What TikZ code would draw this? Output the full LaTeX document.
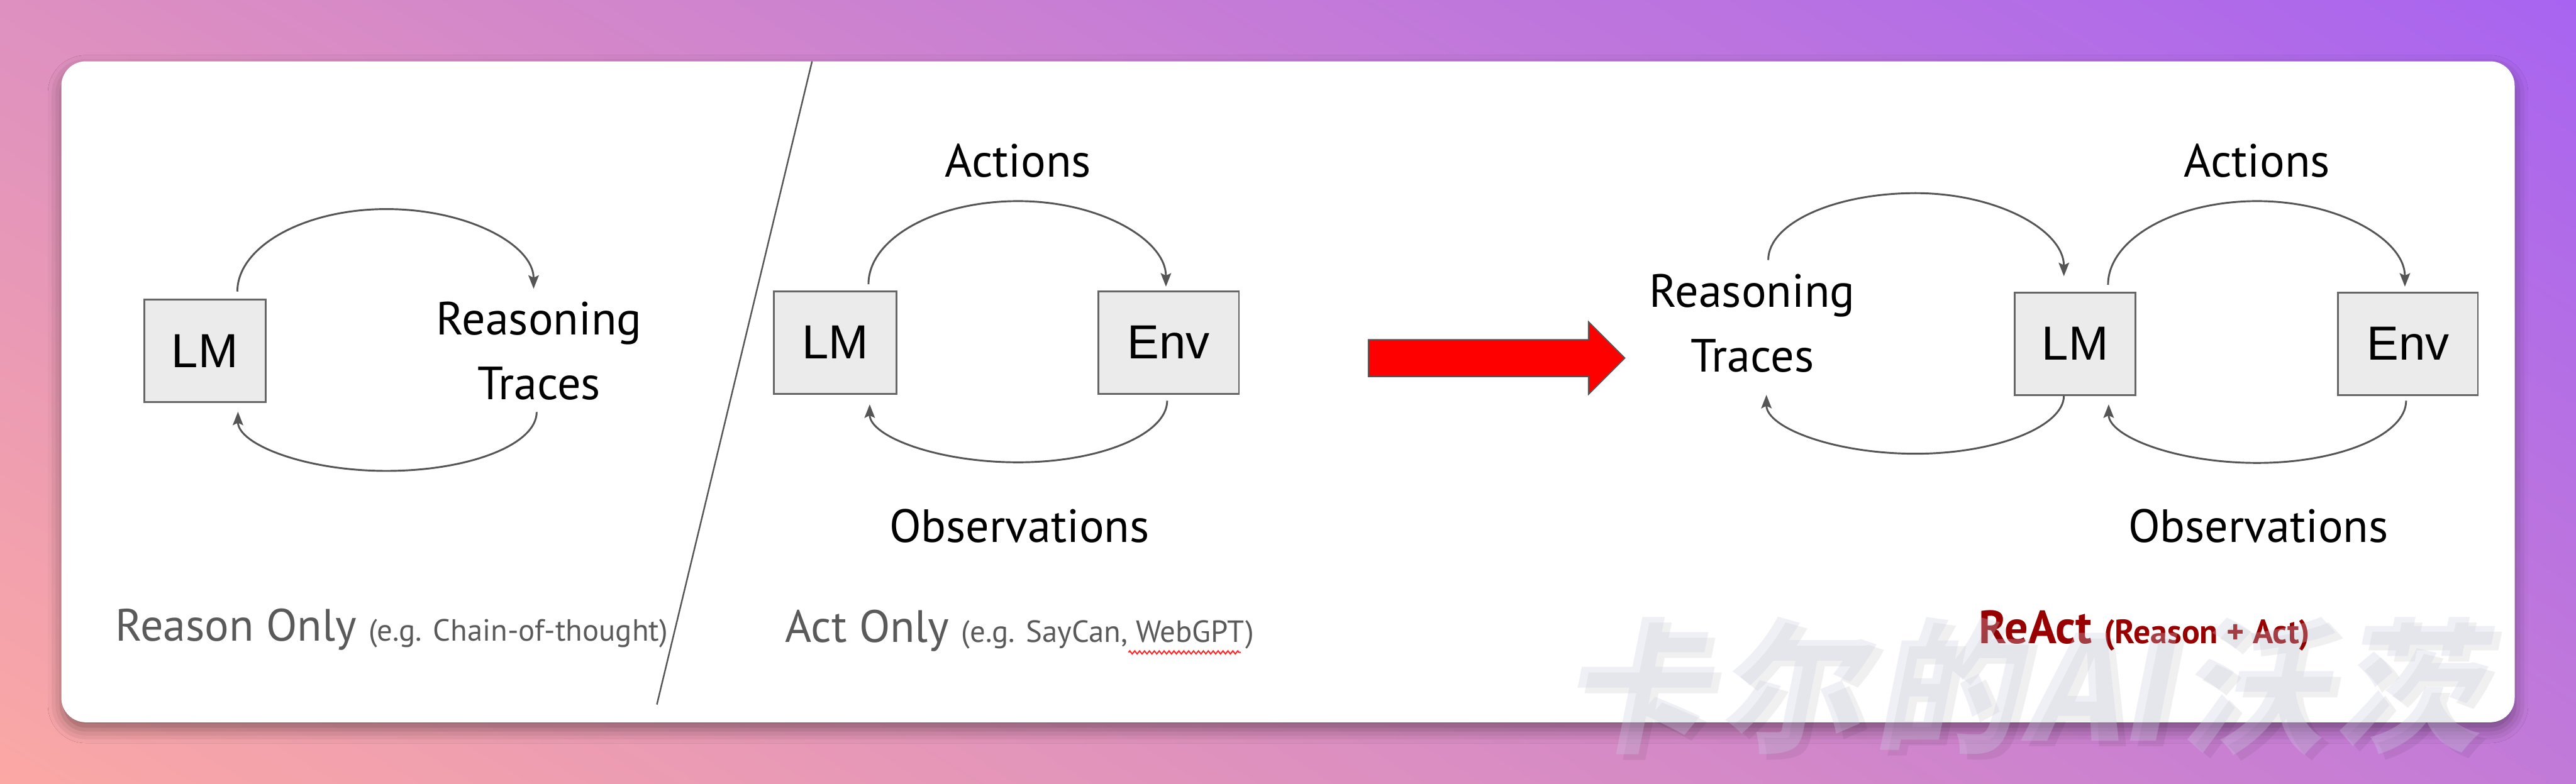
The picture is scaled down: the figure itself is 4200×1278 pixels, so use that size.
\documentclass[tikz,border=0pt]{standalone}
\usepackage{fontspec}
\setmainfont{PT Sans}
\newfontfamily\boxfont{Liberation Sans}
\newfontfamily\cjkfont{Noto Sans CJK SC}
\usetikzlibrary{arrows.meta,shadings,shadows.blur,decorations.pathmorphing}
\definecolor{bgTL}{RGB}{222,144,192}
\definecolor{bgTR}{RGB}{168,100,240}
\definecolor{bgBL}{RGB}{251,168,165}
\definecolor{bgBR}{RGB}{194,122,216}
\definecolor{linegray}{RGB}{85,85,85}
\definecolor{boxfill}{RGB}{235,235,235}
\definecolor{boxdraw}{RGB}{102,102,102}
\definecolor{captiongray}{RGB}{90,90,90}
\definecolor{reactred}{RGB}{153,0,0}
\definecolor{wmark}{RGB}{205,205,228}
\begin{document}
\begin{tikzpicture}[x=1pt,y=-1pt,
  lmbox/.style={draw=boxdraw, fill=boxfill, line width=3pt, inner sep=0pt, minimum height=167pt, font=\boxfont\fontsize{78}{80}\selectfont},
  lbl/.style={inner sep=0pt, font=\fontsize{76}{106}\selectfont, align=center},
  flow/.style={draw=linegray, line width=3pt, -{Stealth[length=22pt,width=17pt,inset=4pt]}},
  caption/.style={inner sep=0pt, anchor=base west, text=captiongray},
  wm/.style={inner sep=0pt, anchor=base west, font=\cjkfont\bfseries\fontsize{236}{240}\selectfont, xslant=0.2}
]
\useasboundingbox (0,0) rectangle (4200,1278);
\shade[upper left=bgTL, upper right=bgTR, lower left=bgBL, lower right=bgBR] (0,0) rectangle (4200,1278);
\fill[white, rounded corners=40pt, blur shadow={shadow xshift=0pt, shadow yshift=-12pt, shadow blur radius=22pt, shadow opacity=40}] (100,100) rectangle (4100,1178);

% divider
\draw[linegray, line width=2.5pt] (1324,100) -- (1071,1149);

% ---- Reason only ----
\node[lmbox, minimum width=198pt] (lm1) at (334,572.5) {LM};
\node[lbl, anchor=base] (rt1) at (879,652) {Reasoning\\Traces};
\coordinate (a1s) at ([xshift=53pt,yshift=12pt]lm1.north);
\coordinate (a1e) at (870,471);
\coordinate (b1s) at (875,672);
\coordinate (b1e) at ([xshift=54pt,yshift=-14pt]lm1.south);
\draw[flow] (a1s) .. controls (387,402) and (496,341) .. (630,341) .. controls (762,341) and (870,399) .. (a1e);
\draw[flow] (b1s) .. controls (875,725) and (765,768) .. (630,768) .. controls (496,768) and (388,724) .. (b1e);
\node[caption] (cap1) at (188,1045) {\fontsize{74}{80}\selectfont Reason Only \fontsize{50}{60}\selectfont(e.g. Chain-of-thought)};

% ---- Act only ----
\node[lmbox, minimum width=200pt] (lm2) at (1362,558.5) {LM};
\node[lmbox, minimum width=229pt] (env2) at (1905.5,558.5) {Env};
\node[lbl, anchor=base] (act2) at (1660,289) {Actions};
\node[lbl, anchor=base] (obs2) at (1662,884) {Observations};
\coordinate (a2s) at ([xshift=54pt,yshift=10pt]lm2.north);
\coordinate (a2e) at ([xshift=-4.5pt,yshift=6pt]env2.north);
\coordinate (b2s) at ([xshift=-2.5pt,yshift=-10pt]env2.south);
\coordinate (b2e) at ([xshift=56pt,yshift=-16pt]lm2.south);
\draw[flow] (a2s) .. controls (1416,389) and (1525,328) .. (1660,328) .. controls (1793,328) and (1901,391) .. (a2e);
\draw[flow] (b2s) .. controls (1903,708) and (1794,754) .. (1660,754) .. controls (1526,754) and (1418,711) .. (b2e);
\node[caption] (cap2) at (1280,1047) {\fontsize{74}{80}\selectfont Act Only \fontsize{50}{60}\selectfont(e.g. SayCan, WebGPT)};
\draw[red!85!white, line width=2pt, decorate, decoration={zigzag, segment length=8pt, amplitude=2.5pt}] (1840,1064) -- (2023,1064);

% ---- big red arrow ----
\draw[fill=red, draw=linegray, line width=2pt, line join=miter] (2231,554) -- (2590,554) -- (2590,525) -- (2649,584) -- (2590,643) -- (2590,614) -- (2231,614) -- cycle;

% ---- ReAct ----
\node[lmbox, minimum width=197pt] (lm3) at (3383.5,560.5) {LM};
\node[lmbox, minimum width=228pt] (env3) at (3926,560.5) {Env};
\node[lbl, anchor=base] (rt3) at (2857,607) {Reasoning\\Traces};
\node[lbl, anchor=base] (act3) at (3680,289) {Actions};
\node[lbl, anchor=base] (obs3) at (3682,884) {Observations};
\coordinate (a3s) at (2883,424);
\coordinate (a3e) at ([xshift=-18.5pt,yshift=25pt]lm3.north);
\coordinate (c3s) at ([xshift=53.5pt,yshift=11pt]lm3.north);
\coordinate (c3e) at ([xshift=-5pt,yshift=8pt]env3.north);
\coordinate (b3s) at ([xshift=-18.5pt]lm3.south);
\coordinate (b3e) at (2880,644);
\coordinate (d3s) at ([xshift=-3pt,yshift=-8pt]env3.south);
\coordinate (d3e) at ([xshift=54.5pt,yshift=-14pt]lm3.south);
\draw[flow] (a3s) .. controls (2883,364) and (2991,315) .. (3123,315) .. controls (3257,315) and (3365,376) .. (a3e);
\draw[flow] (c3s) .. controls (3437,390) and (3546,328) .. (3680,328) .. controls (3813,328) and (3921,391) .. (c3e);
\draw[flow] (b3s) .. controls (3365,695) and (3256,740) .. (3123,740) .. controls (2989,740) and (2880,697) .. (b3e);
\draw[flow] (d3s) .. controls (3923,709) and (3814,755) .. (3680,755) .. controls (3546,755) and (3438,711) .. (d3e);
\node[caption, text=reactred] (cap3) at (3226,1049) {\bfseries\fontsize{76}{80}\selectfont ReAct \fontsize{55}{60}\selectfont(Reason + Act)};

% ---- watermark ----
\node[wm, text=black, opacity=0.06] (wmshadow) at (2557,1218) {卡\hspace{18pt}尔\hspace{18pt}的\hspace{8pt}AI\hspace{18pt}沃\hspace{18pt}茨};
\node[wm, text=wmark, opacity=0.3] (wmtext) at (2545,1208) {卡\hspace{18pt}尔\hspace{18pt}的\hspace{8pt}AI\hspace{18pt}沃\hspace{18pt}茨};
\end{tikzpicture}
\end{document}
